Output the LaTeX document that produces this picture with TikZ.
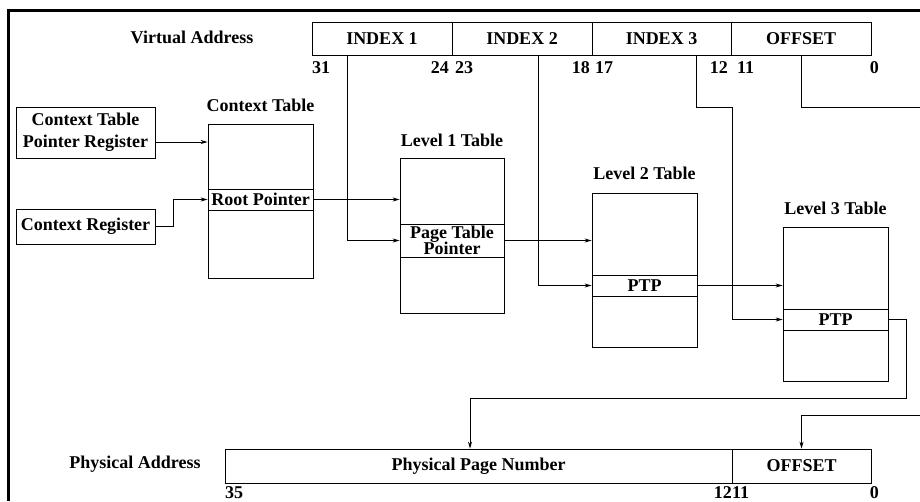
\documentclass[tikz,border=0pt]{standalone}
\usepackage{fontspec}
\setmainfont{Liberation Serif}
\usetikzlibrary{positioning, arrows.meta}

\begin{document}
\begin{tikzpicture}[
      x=1pt, y=-1pt,
      font=\fontsize{18}{22}\selectfont\bfseries,
      every node/.style={align=center, inner sep=0pt},
      vfield/.style={draw, line width=0.8pt, minimum height=33pt},
      reg/.style={draw, line width=0.8pt, minimum width=139pt},
      tbl/.style={draw, line width=0.8pt, minimum width=105pt, minimum height=154pt},
      slot/.style={draw, line width=0.8pt, minimum width=105pt, minimum height=21pt},
      tbltitle/.style={anchor=south},
      link/.style={draw, line width=0.8pt, -{Stealth[length=7pt, width=4pt]}},
      wire/.style={draw, line width=0.8pt},
    ]
    \useasboundingbox (0,0) rectangle (920,501);
    % frame
    \draw[line width=3pt] (8,501) -- (8,10) -- (925,10);

    % virtual address
    \node (vlbl) at (192,37) {Virtual Address};
    \node[vfield, minimum width=140pt] (i1) at (382,38.5) {INDEX 1};
    \node[vfield, minimum width=140pt] (i2) at (522,38.5) {INDEX 2};
    \node[vfield, minimum width=139pt] (i3) at (661.5,38.5) {INDEX 3};
    \node[vfield, minimum width=140pt] (voff) at (801,38.5) {OFFSET};
    \foreach \n/\x/\a in {31/312/west, 24/449/east, 23/455/west, 18/590/east,
                          17/595/west, 12/728/east, 11/737/west, 0/879/east}
      \node[anchor=base \a] (vb\n) at (\x,73) {\n};

    % registers
    \node[reg, minimum height=51pt] (ctpr) at (85.5,132.5) {Context Table\\Pointer Register};
    \node[reg, minimum height=35pt] (cr) at (85.5,226.5) {Context Register};

    % tables
    \node[tbl] (ct) at (260.5,201) {};
    \node[slot] (root) at (260.5,199.5) {Root Pointer};
    \node[tbltitle, above=12pt of ct] {Context Table};

    \node[tbl, minimum width=104pt, minimum height=155pt] (l1) at (452,235.5) {};
    \node[slot, minimum width=104pt, minimum height=33pt]
      (l1slot) at (452,240.5) {Page Table\\[-6pt]Pointer};
    \node[tbltitle, above=11pt of l1] {Level 1 Table};

    \node[tbl] (l2) at (644.5,270) {};
    \node[slot] (l2slot) at (644.5,285.5) {PTP};
    \node[tbltitle, above=13pt of l2] {Level 2 Table};

    \node[tbl] (l3) at (835.5,304) {};
    \node[slot] (l3slot) at (835.5,319.5) {PTP};
    \node[tbltitle, above=12pt of l3] {Level 3 Table};

    % physical address
    \node (plbl) at (135,464) {Physical Address};
    \node[vfield, minimum width=507pt, minimum height=34pt] (ppn) at (478.5,466) {Physical Page Number};
    \node[vfield, minimum width=139pt, minimum height=34pt] (poff) at (801.5,466) {OFFSET};
    \foreach \n/\x/\a in {35/225/west, 12/732/east, 11/732/west, 0/879/east}
      \node[anchor=base \a] (pb\n) at (\x,498) {\n};

    % connectors
    \coordinate (j3) at (732,107);
    \coordinate (offout) at (925,107);
    \coordinate (offin) at (925,415);
    \coordinate (turn) at (906,398);

    \draw[link] ([yshift=-9.5pt]ctpr.east) -- ([yshift=-9.5pt]ctpr.east -| ct.west);
    \draw[link] (cr.east) -- ++(18,0) |- (root.west);
    \draw[link] (root.east) -- (root.east -| l1.west);
    \draw[link] (l1slot.east) -- (l1slot.east -| l2.west);
    \draw[link] (l2slot.east) -- (l2slot.east -| l3.west);
    \draw[link] ([xshift=36pt]i1.south west) |- (l1slot.west);
    \draw[link] ([xshift=87pt]i2.south west) |- (l2slot.west);
    \draw[link] ([xshift=105pt]i3.south west) |- (j3) |- (l3slot.west);
    \draw[wire] (voff.south) |- (offout);
    \draw[link] (l3slot.east) -| (turn) -| ([xshift=-8.5pt]ppn.north);
    \draw[link] (offin) -| (poff.north);
  \end{tikzpicture}
\end{document}
